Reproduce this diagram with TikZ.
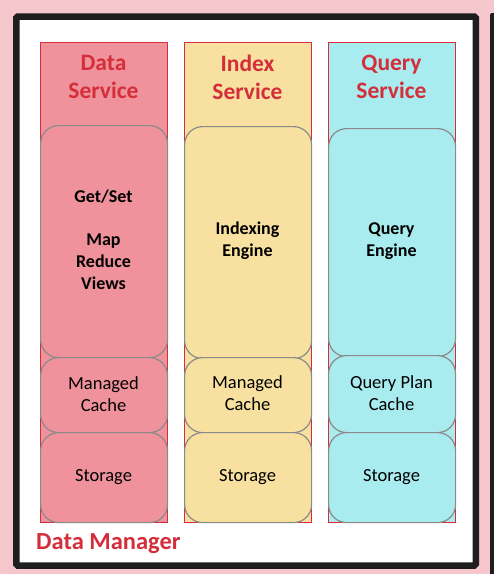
\documentclass[tikz,border=0pt]{standalone}
\usepackage{fontspec}
\setmainfont{Carlito}
\definecolor{bgpink}{HTML}{F5C6CC}
\definecolor{dpink}{HTML}{F0929B}
\definecolor{iyellow}{HTML}{F8E1A0}
\definecolor{qcyan}{HTML}{A9ECEF}
\definecolor{tred}{HTML}{D42E3A}
\definecolor{bgray}{HTML}{8A8A8A}
\definecolor{frameblk}{HTML}{1E1E1E}
\tikzset{
  colbox/.style={draw=tred, line width=0.9pt, minimum width=127pt, minimum height=480pt, inner sep=0pt, anchor=north west},
  part/.style={draw=bgray, line width=1.2pt, rounded corners=18pt, minimum width=127pt, inner sep=0pt, anchor=north west},
  title/.style={text=tred, font=\fontsize{23.5}{28}\selectfont\bfseries, align=center},
  btxt/.style={text=black, font=\fontsize{18}{22}\selectfont\bfseries, align=center},
  ntxt/.style={text=black, font=\fontsize{18.5}{22}\selectfont, align=center},
}
\begin{document}
\begin{tikzpicture}[x=1pt,y=-1pt]
\fill[bgpink] (0,0) rectangle (494,574);
\useasboundingbox (0,0) rectangle (494,574);
\fill[frameblk, rounded corners=2pt] (490,13) rectangle (504,590);
\draw[frameblk, line width=6.5pt, fill=white, rounded corners=1.5pt] (16.25,16.5) rectangle (475.75,565.5);

% columns
\node[colbox, fill=dpink] (dcol) at (40,42) {};
\node[colbox, fill=iyellow] (icol) at (184,42) {};
\node[colbox, fill=qcyan] (qcol) at (328,42) {};

\node[title] (dtitle) at (103.5,77) {Data\\Service};
\node[title] (ititle) at (247.5,77) {Index\\Service};
\node[title] (qtitle) at (391.5,77) {Query\\Service};

% parts
\node[part, fill=dpink, minimum height=232pt] (deng) at (40,125) {};
\node[part, fill=dpink, minimum height=75pt] (dcache) at (40,357) {};
\node[part, fill=dpink, minimum height=90pt] (dstor) at (40,432) {};

\node[part, fill=iyellow, minimum height=232pt] (ieng) at (184,126) {};
\node[part, fill=iyellow, minimum height=75pt] (icache) at (184,357) {};
\node[part, fill=iyellow, minimum height=90pt] (istor) at (184,432) {};

\node[part, fill=qcyan, minimum height=228pt] (qeng) at (328,128) {};
\node[part, fill=qcyan, minimum height=77pt] (qcache) at (328,355) {};
\node[part, fill=qcyan, minimum height=90pt] (qstor) at (328,432) {};

% texts
\node[btxt] (dget) at (103.5,197) {Get/Set};
\node[btxt] (dmap) at (103.5,262) {Map\\Reduce\\Views};
\node[btxt] (itxt) at (247.5,241) {Indexing\\Engine};
\node[btxt] (qtxt) at (391.5,241) {Query\\Engine};

\node[ntxt] (dct) at (103.5,394) {Managed\\Cache};
\node[ntxt] (ict) at (247.5,393) {Managed\\Cache};
\node[ntxt] (qct) at (391.5,393) {Query Plan\\Cache};

\node[ntxt] (dst) at (103.5,477) {Storage};
\node[ntxt] (ist) at (247.5,477) {Storage};
\node[ntxt] (qst) at (391.5,477) {Storage};

\node[text=tred, font=\fontsize{24.5}{28}\selectfont\bfseries, anchor=west, inner sep=0pt] (dm) at (36,544) {Data Manager};
\end{tikzpicture}
\end{document}
